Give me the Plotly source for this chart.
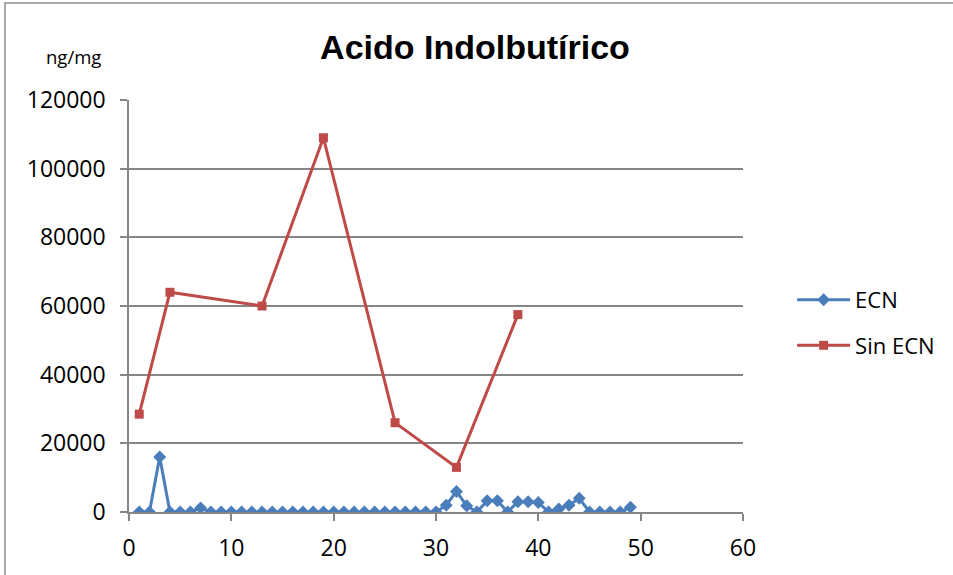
import plotly.graph_objects as go

ecn_x = list(range(1, 50))
ecn_y = [0, 0, 16000, 0, 0, 0, 1200, 0, 0, 0,
         0, 0, 0, 0, 0, 0, 0, 0, 0, 0,
         0, 0, 0, 0, 0, 0, 0, 0, 0, 0,
         2000, 6000, 1800, 0, 3300, 3300, 0, 3000, 3000, 2800,
         0, 900, 2000, 4000, 0, 0, 0, 0, 1400]
sin_x = [1, 4, 13, 19, 26, 32, 38]
sin_y = [28500, 64000, 60000, 109000, 26000, 13000, 57500]

title_text = "Acido Indolbutírico"
unit_text = "ng/mg"

FONT = "Open Sans"
BLUE = "#4A7EBB"
RED = "#BE4B48"
GRID = "#868686"

fig = go.Figure()
fig.add_trace(go.Scatter(x=ecn_x, y=ecn_y, mode="lines+markers", name="ECN",
                         legendgroup="a",
                         line=dict(color=BLUE, width=3),
                         marker=dict(symbol="diamond", size=10, color=BLUE)))
fig.add_trace(go.Scatter(x=sin_x, y=sin_y, mode="lines+markers", name="Sin ECN",
                         legendgroup="b",
                         line=dict(color=RED, width=3),
                         marker=dict(symbol="square", size=9, color=RED)))

fig.update_layout(
    width=953, height=575,
    margin=dict(l=129, r=210, t=100, b=63),
    paper_bgcolor="white", plot_bgcolor="white",
    font=dict(family=FONT, size=20, color="black"),
    title=dict(text="<b>" + title_text + "</b>", x=(475 - 129) / 614, xref="paper",
               xanchor="center", y=1 - 47 / 575, yref="container", yanchor="middle",
               font=dict(family="Liberation Sans", size=34, color="black")),
    showlegend=True,
    legend=dict(x=1.08, xanchor="left", y=0.459, yanchor="middle",
                font=dict(family=FONT, size=22), tracegroupgap=14,
                itemwidth=53,
                traceorder="grouped", bgcolor="rgba(0,0,0,0)"),
    xaxis=dict(range=[0, 60], dtick=10, tick0=0, showgrid=False,
               showline=True, linecolor=GRID, linewidth=1.5,
               ticks="outside", ticklen=7, tickcolor=GRID, tickwidth=1.5,
               zeroline=False, tickfont=dict(size=23), ticklabelstandoff=8),
    yaxis=dict(range=[0, 120000], dtick=20000, tick0=0, tickformat="d",
               showgrid=True, gridcolor=GRID, gridwidth=1.5,
               showline=True, linecolor=GRID, linewidth=1.5,
               ticks="outside", ticklen=7, tickcolor=GRID, tickwidth=1.5,
               zeroline=False, tickfont=dict(size=23), ticklabelstandoff=10),
)

fig.add_annotation(text=unit_text, xref="paper", yref="paper",
                   x=(73 - 129) / 614, y=(512 - 57) / 412,
                   showarrow=False, xanchor="center", yanchor="middle",
                   font=dict(family=FONT, size=18.5))

fig.add_shape(type="rect", xref="paper", yref="paper",
              x0=(5 - 129) / 614, x1=(970 - 129) / 614,
              y0=(512 - 590) / 412, y1=(512 - 3) / 412,
              line=dict(color="#8C8C8C", width=1.5), fillcolor="rgba(0,0,0,0)",
              layer="below")

fig.write_html("out.html")
